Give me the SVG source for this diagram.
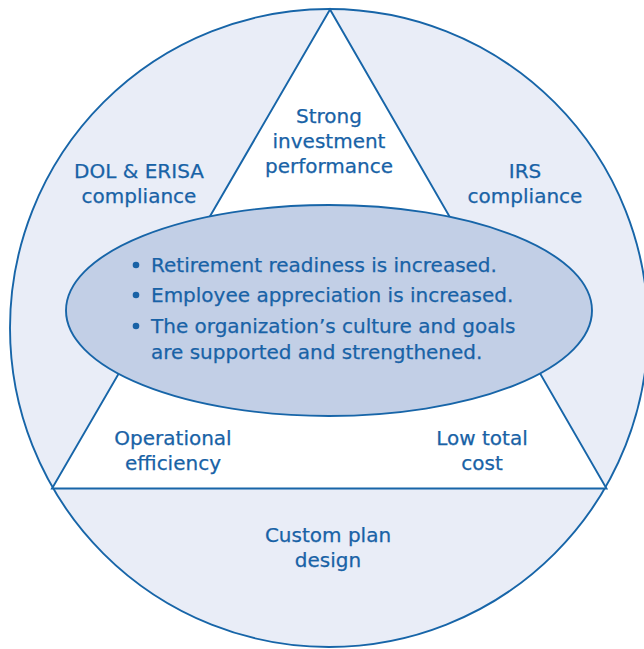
<svg xmlns="http://www.w3.org/2000/svg" width="644" height="649" viewBox="0 0 644 649">
  <style>
    .outline { stroke: #1765a8; stroke-width: 1.9; }
    .label { font-family: "DejaVu Sans", "Open Sans", sans-serif; font-size: 20px; fill: #1862a6; stroke: #1862a6; stroke-width: 0.25; text-anchor: middle; }
    .item { font-family: "DejaVu Sans", "Open Sans", sans-serif; font-size: 20px; fill: #1862a6; stroke: #1862a6; stroke-width: 0.25; }
    .bullet { fill: #1862a6; }
  </style>
  <rect width="644" height="649" fill="#ffffff"/>

  <!-- outer circle: compliance and plan design ring -->
  <g id="ring">
    <circle class="outline" cx="329" cy="328" r="319" fill="#e9edf7"/>
    <text class="label" x="139" y="178">DOL &amp; ERISA</text>
    <text class="label" x="139" y="203">compliance</text>
    <text class="label" x="525" y="178">IRS</text>
    <text class="label" x="525" y="203">compliance</text>
    <text class="label" x="328" y="542">Custom plan</text>
    <text class="label" x="328" y="567">design</text>
  </g>

  <!-- inner triangle: performance, efficiency, cost -->
  <g id="triangle">
    <polygon class="outline" points="330,9.5 52,488.5 606.5,488.5" fill="#ffffff" stroke-linejoin="miter"/>
    <text class="label" x="329" y="123">Strong</text>
    <text class="label" x="329" y="148">investment</text>
    <text class="label" x="329" y="173">performance</text>
    <text class="label" x="173" y="445">Operational</text>
    <text class="label" x="173" y="470">efficiency</text>
    <text class="label" x="482" y="445">Low total</text>
    <text class="label" x="482" y="470">cost</text>
  </g>

  <!-- central ellipse: outcomes -->
  <g id="outcomes">
    <ellipse class="outline" cx="329" cy="310.5" rx="263" ry="105.5" fill="#c2cfe6"/>
    <circle class="bullet" cx="136" cy="265" r="3.3"/>
    <text class="item" x="151" y="272">Retirement readiness is increased.</text>
    <circle class="bullet" cx="136" cy="295" r="3.3"/>
    <text class="item" x="151" y="302">Employee appreciation is increased.</text>
    <circle class="bullet" cx="136" cy="326" r="3.3"/>
    <text class="item" x="151" y="333">The organization’s culture and goals</text>
    <text class="item" x="151" y="359">are supported and strengthened.</text>
  </g>
</svg>
